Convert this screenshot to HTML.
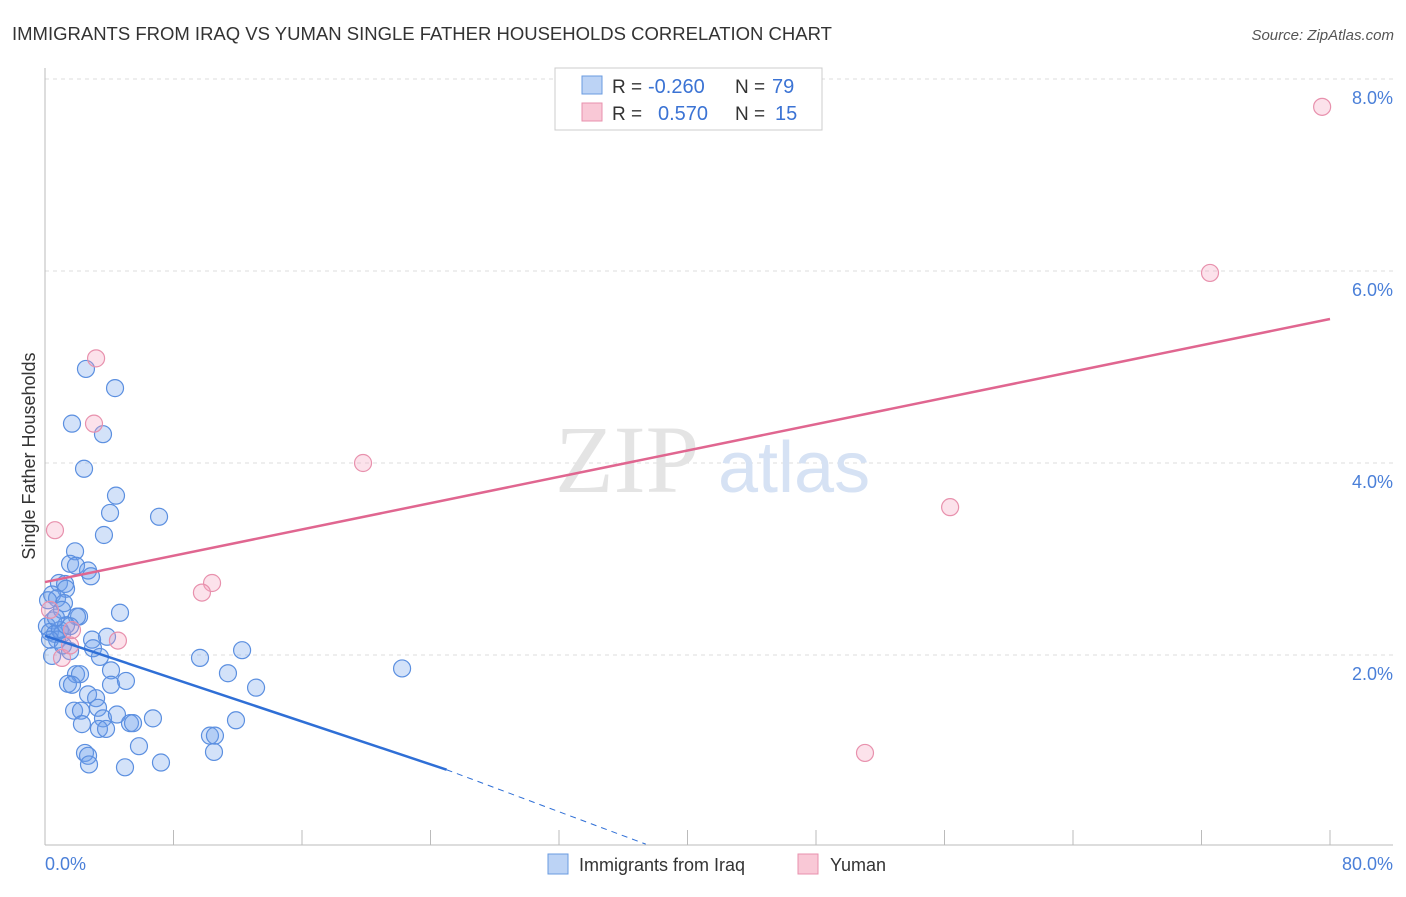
<!DOCTYPE html>
<html><head><meta charset="utf-8"><style>
body{margin:0;background:#fff;font-family:"Liberation Sans",sans-serif}
</style></head><body>
<svg width="1406" height="892" xmlns="http://www.w3.org/2000/svg" font-family="Liberation Sans, sans-serif">
<text x="12" y="40" font-size="18.5" fill="#333">IMMIGRANTS FROM IRAQ VS YUMAN SINGLE FATHER HOUSEHOLDS CORRELATION CHART</text>
<text x="1394" y="40" font-size="15" fill="#555" text-anchor="end" font-style="italic">Source: ZipAtlas.com</text>
<g id="grid"></g>
<text x="555" y="492" font-size="96" fill="#e4e4e4" font-family="Liberation Serif, serif">ZIP</text>
<text x="718" y="492" font-size="72" fill="#d6e2f4">atlas</text>
<line x1="45" y1="68" x2="45" y2="845" stroke="#bbb"/>
<line x1="45" y1="845" x2="1393" y2="845" stroke="#bbb"/>
<g id="ticks"></g>
<g id="marks"></g>
<g id="lines"></g>
<text x="35" y="456" font-size="18" fill="#333" text-anchor="middle" transform="rotate(-90 35 456)">Single Father Households</text>
<text x="45" y="870" font-size="18" fill="#4a7fd8">0.0%</text>
<text x="1393" y="870" font-size="18" fill="#4a7fd8" text-anchor="end">80.0%</text>
<g>
<rect x="555" y="68" width="267" height="62" fill="#fff" stroke="#ccc"/>
<rect x="582" y="76" width="20" height="18" fill="#bcd3f5" stroke="#6a9be0"/>
<rect x="582" y="103" width="20" height="18" fill="#f9c8d6" stroke="#e891ad"/>
<text x="612" y="93" font-size="19" fill="#333">R =</text>
<text x="648" y="93" font-size="20" fill="#3b73d4">-0.260</text>
<text x="735" y="93" font-size="19" fill="#333">N =</text>
<text x="772" y="93" font-size="20" fill="#3b73d4">79</text>
<text x="612" y="120" font-size="19" fill="#333">R =</text>
<text x="658" y="120" font-size="20" fill="#3b73d4">0.570</text>
<text x="735" y="120" font-size="19" fill="#333">N =</text>
<text x="775" y="120" font-size="20" fill="#3b73d4">15</text>
</g>
<g>
<rect x="548" y="854" width="20" height="20" fill="#bcd3f5" stroke="#6a9be0"/>
<text x="579" y="871" font-size="18" fill="#333">Immigrants from Iraq</text>
<rect x="798" y="854" width="20" height="20" fill="#f9c8d6" stroke="#e891ad"/>
<text x="830" y="871" font-size="18" fill="#333">Yuman</text>
</g>
</svg>
<script>
const blueX=[2.55,4.36,1.68,3.61,2.43,4.42,4.05,7.10,3.67,1.87,1.56,1.93,2.68,2.86,0.87,1.25,1.31,0.44,0.75,1.18,2.12,1.99,4.67,0.50,0.12,0.31,0.62,1.06,1.56,3.86,2.93,2.99,1.56,3.42,0.44,9.65,12.27,4.11,11.39,22.23,1.93,2.18,1.43,1.68,4.11,5.04,13.14,2.68,3.18,1.81,2.24,3.30,3.61,6.72,11.89,4.48,5.29,2.30,3.36,3.80,5.48,5.85,2.49,2.68,2.74,4.98,7.22,10.27,10.58,10.52,0.75,0.93,0.19,0.31,1.06,1.31,0.68,1.12];
const blueY=[4.98,4.78,4.41,4.30,3.94,3.66,3.48,3.44,3.25,3.08,2.95,2.93,2.88,2.82,2.75,2.74,2.69,2.63,2.59,2.54,2.40,2.40,2.44,2.36,2.30,2.24,2.22,2.22,2.30,2.19,2.16,2.07,2.04,1.98,1.99,1.97,2.05,1.84,1.81,1.86,1.80,1.80,1.70,1.69,1.69,1.73,1.66,1.59,1.55,1.42,1.42,1.45,1.34,1.34,1.32,1.38,1.29,1.28,1.23,1.23,1.29,1.05,0.98,0.95,0.86,0.83,0.88,1.16,1.16,0.99,2.16,2.26,2.57,2.16,2.47,2.31,2.39,2.10];
const pinkX=[79.51,72.53,3.18,3.05,19.80,56.35,0.62,10.40,9.77,4.54,1.06,1.56,0.31,51.05,1.68];
const pinkY=[7.71,5.98,5.09,4.41,4.00,3.54,3.30,2.75,2.65,2.15,1.97,2.10,2.47,0.98,2.26];
const yTicks=[2,4,6,8];
const yTickLabels=["2.0%","4.0%","6.0%","8.0%"];
const xTicks=[0,8,16,24,32,40,48,56,64,72,80];
const blueTrend=[2.20,-0.0558];
const pinkTrend=[2.76,0.03425];
const NS="http://www.w3.org/2000/svg";
const sx=v=>45+v/80*1285, sy=v=>847-v*96;
function mk(t,a,p){const e=document.createElementNS(NS,t);for(const k in a)e.setAttribute(k,a[k]);p.appendChild(e);return e;}
const grid=document.getElementById('grid');
yTicks.forEach((t,i)=>{
 const l=mk('line',{x1:45,x2:1393,y1:sy(t),y2:sy(t),stroke:'#ddd','stroke-dasharray':'4,4'},grid);
 
 
 const tx=mk('text',{x:1393,y:sy(t)+25,'font-size':18,fill:'#4a7fd8','text-anchor':'end'},grid);
 tx.textContent=yTickLabels[i];
 
 
});
const ticks=document.getElementById('ticks');
xTicks.forEach(t=>{
 const l=mk('line',{x1:sx(t),x2:sx(t),y1:830,y2:845,stroke:'#bbb'},ticks);
 
 
});
const marks=document.getElementById('marks');
blueX.forEach((x,i)=>{
 const c=mk('circle',{cx:sx(x),cy:sy(blueY[i]),r:8.5,fill:'rgba(110,160,235,0.3)',stroke:'#5b8fe0','stroke-width':1.2},marks);
 
 
});
pinkX.forEach((x,i)=>{
 const c=mk('circle',{cx:sx(x),cy:sy(pinkY[i]),r:8.5,fill:'rgba(245,160,190,0.3)',stroke:'#e891ad','stroke-width':1.2},marks);
 
 
});
const lines=document.getElementById('lines');
const bt=x=>blueTrend[0]+blueTrend[1]*x, pt=x=>pinkTrend[0]+pinkTrend[1]*x;
let l=mk('line',{x1:sx(0),y1:sy(bt(0)),x2:sx(25),y2:sy(bt(25)),stroke:'#2f6fd6','stroke-width':2.5},lines);


l=mk('line',{x1:sx(25),y1:sy(bt(25)),x2:sx(37.4),y2:sy(bt(37.4))+8,stroke:'#2f6fd6','stroke-width':1,'stroke-dasharray':'6,5'},lines);


l=mk('line',{x1:sx(0),y1:sy(pt(0)),x2:sx(80),y2:sy(pt(80)),stroke:'#e06690','stroke-width':2.5},lines);


</script>
</body></html>
